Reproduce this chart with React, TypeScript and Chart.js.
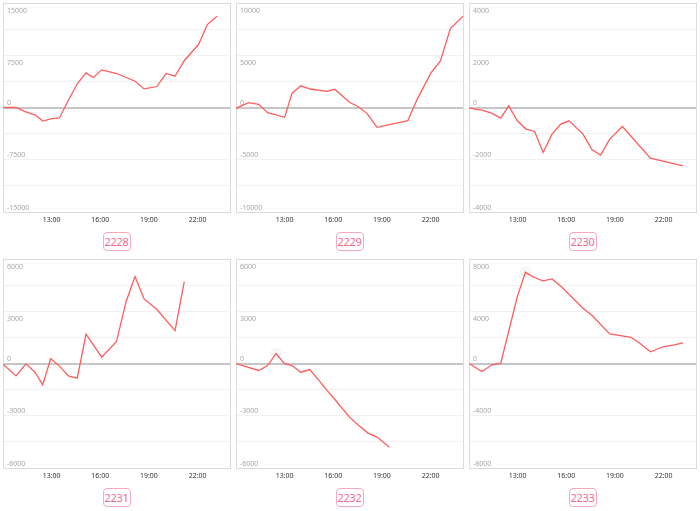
import React, { useEffect, useRef } from 'react';
import { Chart, registerables } from 'chart.js';

Chart.register(...registerables);

// ---- data ----
const xTickHours = [13, 16, 19, 22];
const panelLabels = ['2228', '2229', '2230', '2231', '2232', '2233'];
const yMaxes = [15000, 10000, 4000, 6000, 6000, 8000];

const t2228 = [10, 10.8, 11.36, 12, 12.45, 13, 13.48, 14.03, 14.59, 15.12, 15.57, 16.09, 17.02, 18.15, 18.7, 19.49, 20.06, 20.6, 21.2, 22.06, 22.6, 23.2];
const v2228 = [0, 0, -600, -1080, -1940, -1600, -1500, 1050, 3445, 4970, 4300, 5400, 4880, 3775, 2670, 3010, 4880, 4490, 6790, 9040, 11910, 13100];

const t2229 = [10, 10.78, 11.4, 11.95, 13, 13.45, 14, 14.58, 15.6, 16.09, 17, 17.57, 18.08, 18.7, 20.6, 21.17, 22.03, 22.6, 23.22, 24];
const v2229 = [-80, 460, 300, -500, -940, 1350, 2080, 1770, 1550, 1740, 500, 50, -560, -1900, -1260, 780, 3330, 4440, 7560, 8740];

const t2230 = [10, 10.8, 11.38, 11.96, 12.45, 12.98, 13.5, 14.05, 14.57, 15.12, 15.66, 16.17, 17.03, 17.59, 18.12, 18.68, 19.46, 21.19, 23.2];
const v2230 = [-25, -100, -216, -407, 63, -510, -816, -918, -1720, -1020, -637, -510, -1020, -1620, -1823, -1210, -728, -1937, -2230];

const t2231 = [10, 10.8, 11.42, 11.97, 12.45, 12.94, 13.47, 14.03, 14.58, 15.12, 16.09, 17, 17.59, 18.14, 18.7, 19.48, 20.61, 21.18];
const v2231 = [-40, -710, -20, -500, -1225, 285, -135, -710, -840, 1680, 360, 1260, 3550, 4990, 3710, 3115, 1890, 4700];

const t2232 = [10, 11.4, 11.95, 12.47, 12.98, 13.45, 14, 14.55, 15.1, 15.6, 16.1, 17, 17.57, 18.14, 18.7, 19.46];
const v2232 = [0, -400, -115, 575, 0, -115, -500, -345, -955, -1530, -2065, -3080, -3555, -3995, -4225, -4815];

const t2233 = [10, 10.8, 11.42, 11.96, 12.98, 13.48, 13.99, 14.57, 15.12, 15.7, 17.03, 17.59, 18.68, 20, 20.53, 21.19, 22.01, 22.59, 23.2];
const v2233 = [0, -610, -100, 25, 5120, 6980, 6600, 6320, 6470, 5880, 4230, 3670, 2270, 2010, 1555, 890, 1300, 1400, 1580];

const panelTimes = [t2228, t2229, t2230, t2231, t2232, t2233];
const panelValues = [v2228, v2229, v2230, v2231, v2232, v2233];
const highlightIndex = [-1, -1, -1, -1, 3, 5];

// ---- layout ----
const COL_LEFTS = [3, 236, 469];
const ROW_TOPS = [3, 259];
const BOX_W = 227;
const BOX_H = 209;
const AXIS_H = 20;
const FONT = '"Noto Sans", "Open Sans", sans-serif';

const framePlugin = {
  id: 'frameAndLabels',
  beforeDatasetsDraw(chart: any) {
    const { ctx, chartArea: a } = chart;
    const ys = chart.scales.y;
    const yMax = ys.max;
    ctx.save();
    ctx.strokeStyle = '#dcdcdc';
    ctx.lineWidth = 1;
    ctx.strokeRect(a.left + 0.5, a.top + 0.5, a.right - a.left, a.bottom - a.top);
    ctx.fillStyle = '#a6a6a6';
    ctx.font = `7px ${FONT}`;
    ctx.textAlign = 'left';
    ctx.textBaseline = 'alphabetic';
    const vals = [yMax, yMax / 2, 0, -yMax / 2, -yMax];
    for (const v of vals) {
      const py = ys.getPixelForValue(v);
      ctx.fillText(String(v), a.left + 4, v > 0 ? py + 9.5 : py - 2.5);
    }
    ctx.restore();
  },
};

function Panel({ idx }: { idx: number }) {
  const ref = useRef<HTMLCanvasElement>(null);
  const left = COL_LEFTS[idx % 3];
  const top = ROW_TOPS[Math.floor(idx / 3)];
  const yMax = yMaxes[idx];

  useEffect(() => {
    const times = panelTimes[idx];
    const values = panelValues[idx];
    const hl = highlightIndex[idx];
    const chart = new Chart(ref.current as HTMLCanvasElement, {
      type: 'line',
      data: {
        datasets: [
          {
            data: times.map((t, i) => ({ x: t, y: values[i] })),
            borderColor: '#ff5c5c',
            borderWidth: 1.3,
            tension: 0,
            fill: false,
            pointRadius: (c: any) => (c.dataIndex === hl ? 6 : 0),
            pointBackgroundColor: 'rgba(0,0,0,0.035)',
            pointBorderWidth: 0,
            pointHoverRadius: 0,
          },
        ],
      },
      options: {
        responsive: false,
        animation: false,
        devicePixelRatio: 1,
        layout: { padding: { left: 1, right: 1, top: 1, bottom: 0 } },
        plugins: { legend: { display: false }, tooltip: { enabled: false } },
        events: [],
        scales: {
          x: {
            type: 'linear',
            min: 10,
            max: 24,
            afterBuildTicks: (axis: any) => {
              axis.ticks = xTickHours.map((v) => ({ value: v }));
            },
            afterFit: (s: any) => {
              s.height = AXIS_H;
            },
            ticks: {
              callback: (v: any) => `${v}:00`,
              font: { size: 7, family: FONT },
              color: '#333333',
              padding: 4,
              maxRotation: 0,
              autoSkip: false,
            },
            grid: { display: false, drawTicks: false },
            border: { display: false },
          },
          y: {
            min: -yMax,
            max: yMax,
            afterFit: (s: any) => {
              s.width = 0;
            },
            ticks: { stepSize: yMax / 4, display: false },
            grid: {
              drawTicks: false,
              color: (c: any) => (c.tick && c.tick.value === 0 ? '#c6c6c6' : '#f1f1f1'),
              lineWidth: (c: any) => (c.tick && c.tick.value === 0 ? 2 : 1),
            },
            border: { display: false },
          },
        },
      } as any,
      plugins: [framePlugin],
    });
    return () => chart.destroy();
  }, [idx, yMax]);

  return (
    <>
      <canvas
        ref={ref}
        width={BOX_W + 2}
        height={BOX_H + 1 + AXIS_H}
        style={{ position: 'absolute', left: left - 1, top: top - 1, width: BOX_W + 2, height: BOX_H + 1 + AXIS_H }}
      />
      <div
        style={{
          position: 'absolute',
          left: left + BOX_W / 2 - 14,
          top: top + 229,
          width: 28,
          height: 19,
          boxSizing: 'border-box',
          border: '1.5px solid #f7a8bf',
          borderRadius: 4,
          color: '#f06a91',
          fontFamily: FONT,
          fontSize: 11,
          display: 'flex',
          alignItems: 'center',
          justifyContent: 'center',
          lineHeight: 1,
          letterSpacing: -0.3,
        }}
      >
        {panelLabels[idx]}
      </div>
    </>
  );
}

export default function App() {
  return (
    <div style={{ position: 'absolute', left: 0, top: 0, width: 700, height: 511, background: '#ffffff' }}>
      {panelLabels.map((_, i) => (
        <Panel key={i} idx={i} />
      ))}
    </div>
  );
}
